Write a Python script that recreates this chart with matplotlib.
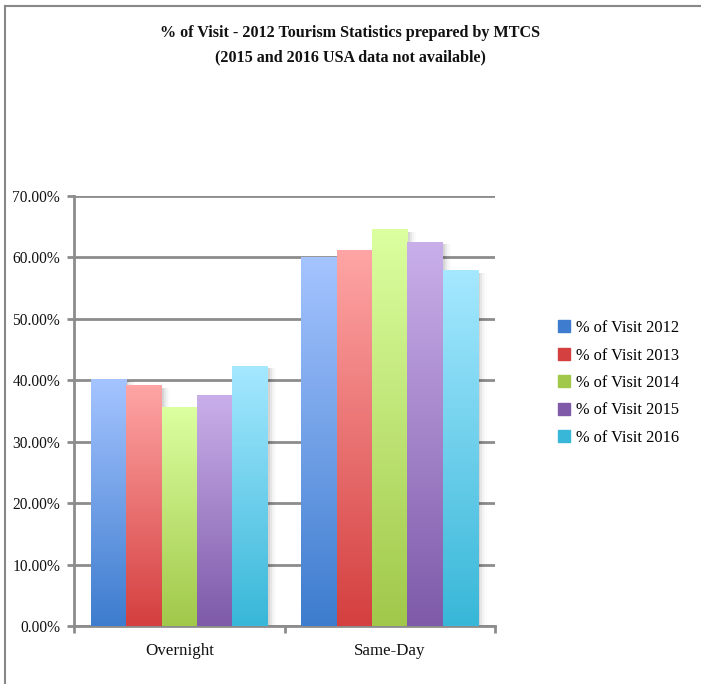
import matplotlib
matplotlib.use('Agg')
import matplotlib.pyplot as plt
import matplotlib.colors as mcolors
from matplotlib.lines import Line2D
from matplotlib.patches import Rectangle
from matplotlib.ticker import FuncFormatter
import numpy as np

# share of visits by type, per year
categories = ['Overnight', 'Same-Day']
years = ['2012', '2013', '2014', '2015', '2016']
visit_2012 = [0.402, 0.600]
visit_2013 = [0.391, 0.611]
visit_2014 = [0.355, 0.645]
visit_2015 = [0.376, 0.625]
visit_2016 = [0.423, 0.578]
series = [visit_2012, visit_2013, visit_2014, visit_2015, visit_2016]

# (top, bottom) gradient colours for each year
top_cols = ['#a5c4ff', '#ffa5a5', '#dcffa0', '#c9afea', '#a5e8ff']
bot_cols = ['#3d7cce', '#d43f3f', '#a1c84a', '#7e5aa9', '#38b7d8']

plt.rcParams['font.family'] = ['Liberation Serif', 'DejaVu Serif']

fig = plt.figure(figsize=(7.01, 6.84), dpi=100)
W, H = 701, 684
ax = fig.add_axes([74 / W, 1 - 626 / H, (495 - 74) / W, (626 - 196) / H])

grid_col = '#8c8c8c'
n = len(series)
group_w = 0.84
bw = group_w / n
x = np.arange(len(categories))

for i, vals in enumerate(series):
    xs = x - group_w / 2 + bw * (i + 0.5)
    bars = ax.bar(xs, vals, width=bw, color='none', edgecolor='none', zorder=3,
                  label='% of Visit ' + years[i])
    cmap = mcolors.LinearSegmentedColormap.from_list('g%d' % i, [bot_cols[i], top_cols[i]])
    for b in bars:
        x0, h = b.get_x(), b.get_height()
        # soft shadow on the right
        for k, a in [(0.010, 0.08), (0.020, 0.05), (0.030, 0.03), (0.040, 0.015)]:
            ax.add_patch(Rectangle((x0 + k, 0), bw, h - 0.003, color='#000000',
                                   alpha=a, lw=0, zorder=2))
        grad = np.linspace(0, 1, 256).reshape(-1, 1)
        ax.imshow(grad, cmap=cmap, origin='lower', aspect='auto',
                  extent=(x0, x0 + bw, 0, h), zorder=3, interpolation='bilinear')

ax.set_xlim(-0.5, len(categories) - 0.5)
ax.set_ylim(0, 0.70)
ax.set_yticks(np.arange(0, 0.71, 0.10))
ax.yaxis.set_major_formatter(FuncFormatter(lambda v, p: '%.2f%%' % (v * 100)))
ax.yaxis.grid(True, color=grid_col, lw=2, zorder=1)
ax.set_axisbelow(True)

ax.set_xticks(x)
ax.set_xticklabels(categories)
ax.set_xticks([-0.5, 0.5, 1.5], minor=True)
ax.tick_params(axis='x', which='major', length=0, pad=12, labelsize=12.2, colors='#111111')
ax.tick_params(axis='x', which='minor', length=5, width=2, color=grid_col)
ax.tick_params(axis='y', length=5, width=2, color=grid_col, pad=5, labelsize=11.2,
               labelcolor='#111111')

for s in ['top', 'right']:
    ax.spines[s].set_visible(False)
for s in ['left', 'bottom']:
    ax.spines[s].set_color(grid_col)
    ax.spines[s].set_linewidth(2)

handles = [Rectangle((0, 0), 1, 1, color=bot_cols[i]) for i in range(n)]
fig.legend(handles, ['% of Visit ' + y for y in years], loc='center left',
           bbox_to_anchor=(543 / W, 1 - 383 / H), frameon=False, fontsize=11.8,
           handlelength=0.75, handleheight=0.75, handletextpad=0.35, labelspacing=0.7)

fig.text(0.5, 1 - 33 / H, '% of Visit - 2012 Tourism Statistics prepared by MTCS',
         ha='center', va='center', fontsize=11.6, fontweight='bold', color='#111111')
fig.text(0.5, 1 - 57 / H, '(2015 and 2016 USA data not available)',
         ha='center', va='center', fontsize=11.6, fontweight='bold', color='#111111')

# outer chart frame (top and left edges)
fig.add_artist(Line2D([5 / W, 5 / W], [0, 1 - 6 / H], color='#888888', lw=1.5))
fig.add_artist(Line2D([5 / W, 1], [1 - 6 / H, 1 - 6 / H], color='#888888', lw=1.5))

fig.savefig('out.png', dpi=100)
